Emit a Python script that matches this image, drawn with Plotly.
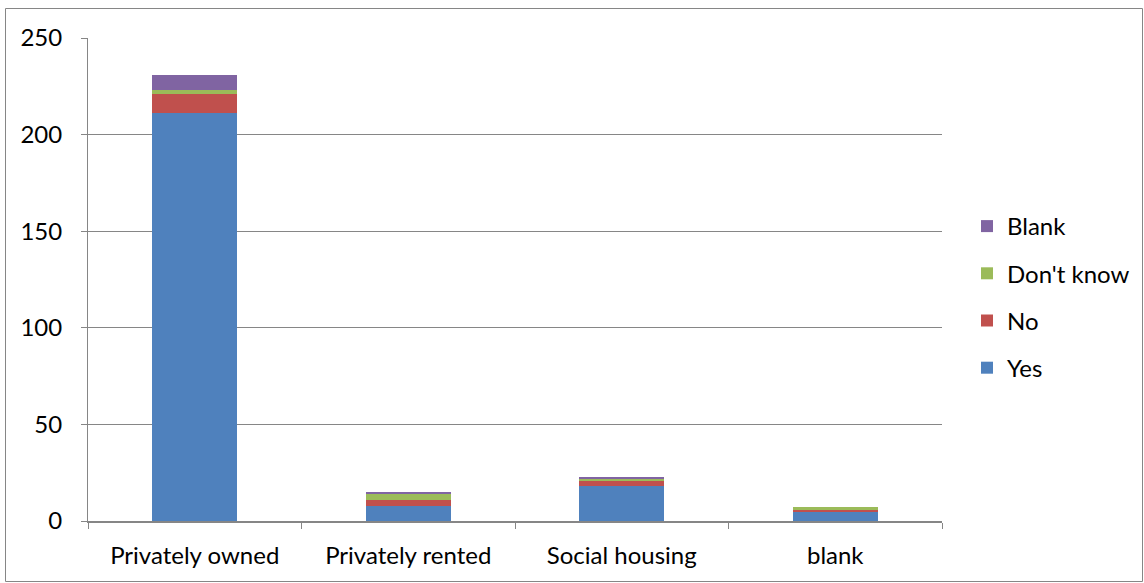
import plotly.graph_objects as go

categories = ["Privately owned", "Privately rented", "Social housing", "blank"]
yes_vals = [211, 8, 18, 5]
no_vals = [10, 3, 3, 1]
dont_know_vals = [2, 3, 1, 1]
blank_vals = [8, 1, 1, 0]
y_ticks = [0, 50, 100, 150, 200, 250]

# (name, values, colour, legend position from top)
series = [
    ("Yes", yes_vals, "#4F81BD", 4),
    ("No", no_vals, "#C0504D", 3),
    ("Don't know", dont_know_vals, "#9BBB59", 2),
    ("Blank", blank_vals, "#8064A2", 1),
]

fig = go.Figure()
for name, vals, color, rank in series:
    fig.add_trace(go.Bar(
        x=categories, y=vals, name=name, legendgroup=name, legendrank=rank,
        marker=dict(color=color, line=dict(width=0)),
    ))

W, H = 1144, 583
L, R, T, B = 88, 202, 38, 62
pw, ph = W - L - R, H - T - B

def px_x(x):
    return (x - L) / pw

def px_y(y):
    return (H - B - y) / ph

grid_col = "#868686"
FS = 24
fig.update_layout(
    width=W, height=H,
    margin=dict(l=L, r=R, t=T, b=B, autoexpand=False),
    barmode="stack", bargap=0.6,
    paper_bgcolor="white", plot_bgcolor="white",
    font=dict(family="Lato, 'Open Sans', sans-serif", size=FS, color="#000000"),
    xaxis=dict(
        type="category", tickson="boundaries", ticks="outside", ticklen=6,
        tickcolor=grid_col, showline=True, linecolor=grid_col, linewidth=2,
        showgrid=False, tickfont=dict(size=FS), ticklabelstandoff=12,
    ),
    yaxis=dict(
        range=[0, 250], tickvals=y_ticks, ticks="outside", ticklen=6,
        tickcolor=grid_col, showline=True, linecolor=grid_col, linewidth=1,
        showgrid=True, gridcolor=grid_col, gridwidth=1, zeroline=False,
        tickfont=dict(size=FS), ticklabelstandoff=14,
    ),
    legend=dict(
        traceorder="grouped", tracegroupgap=13,
        x=px_x(967), y=px_y(204), xanchor="left", yanchor="top",
        font=dict(size=FS), itemwidth=30, bgcolor="rgba(0,0,0,0)",
    ),
    shapes=[dict(
        type="rect", xref="paper", yref="paper",
        x0=px_x(5.5), x1=px_x(1142.5), y0=px_y(581.5), y1=px_y(8.5),
        line=dict(color=grid_col, width=1), fillcolor="rgba(0,0,0,0)",
        layer="below",
    )],
)

fig.write_html("out.html")
